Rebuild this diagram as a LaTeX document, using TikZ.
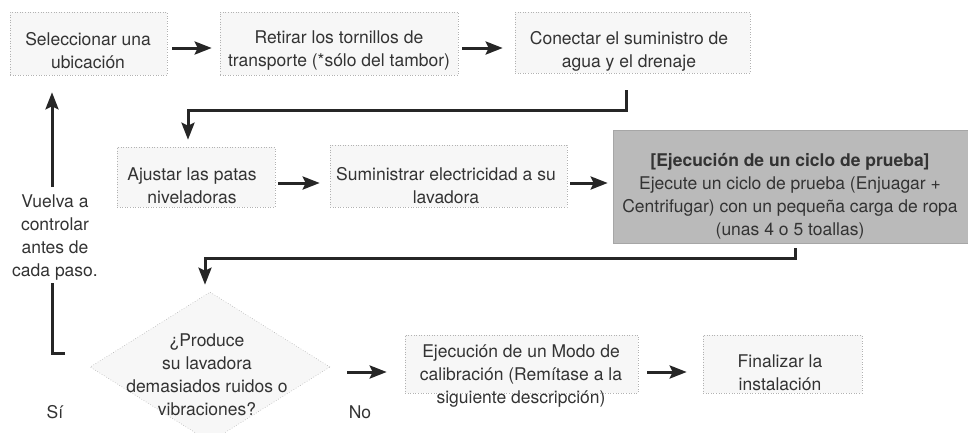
\documentclass[tikz,border=0pt]{standalone}
\usepackage{fontspec}
\setmainfont{TeX Gyre Heros}
\usetikzlibrary{arrows.meta,shapes.geometric,calc}
\begin{document}
\begin{tikzpicture}[x=1pt,y=-1pt,
  boxshape/.style={rectangle, fill=black!3, draw=black!30, dotted, line width=0.6pt, inner sep=0pt},
  grayshape/.style={rectangle, fill=black!27, draw=black!35, line width=0.6pt, inner sep=0pt},
  decshape/.style={diamond, fill=black!3, draw=black!30, dotted, line width=0.6pt, inner sep=0pt},
  txt/.style={inner sep=0pt, align=center, text=black!80, font=\fontsize{17.5}{23}\selectfont},
  arr/.style={-{Stealth[length=17pt,width=13pt,inset=3pt]}, line width=3pt, draw=black!85},
  ln/.style={line width=3pt, draw=black!85}
]
\useasboundingbox (0,0) rectangle (968,432);

% boxes
\node[boxshape, minimum width=157pt, minimum height=63pt] (b1) at (88.5,43.5) {};
\node[txt] (t1) at (88,51) {Seleccionar una\\ubicación};
\node[boxshape, minimum width=238pt, minimum height=63pt] (b2) at (339,43.5) {};
\node[txt] (t2) at (339,51) {Retirar los tornillos de\\transporte (*sólo del tambor)};
\node[boxshape, minimum width=235pt, minimum height=61pt] (b3) at (632.5,42.5) {};
\node[txt] (t3) at (629,51) {Conectar el suministro de\\agua y el drenaje};

\node[boxshape, minimum width=158pt, minimum height=60pt] (b4) at (196,177) {};
\node[txt] (t4) at (192,186) {Ajustar las patas\\niveladoras};
\node[boxshape, minimum width=237pt, minimum height=62pt] (b5) at (448.5,176) {};
\node[txt] (t5) at (446,186) {Suministrar electricidad a su\\lavadora};
\node[grayshape, minimum width=355pt, minimum height=113pt] (b6) at (790.5,186.5) {};
\node[txt] (t6) at (790,196) {\textbf{[Ejecución de un ciclo de prueba]}\\Ejecute un ciclo de prueba (Enjuagar +\\Centrifugar) con un pequeña carga de ropa\\(unas 4 o 5 toallas)};

\node[decshape, minimum width=240pt, minimum height=150pt] (d) at (210,367) {};
\node[txt] (td) at (207,375) {¿Produce\\su lavadora\\demasiados ruidos o\\vibraciones?};
\node[boxshape, minimum width=233pt, minimum height=58pt] (b7) at (521.5,364) {};
\node[txt] (t7) at (521,376) {Ejecución de un Modo de\\calibración (Remítase a la\\siguiente descripción)};
\node[boxshape, minimum width=159pt, minimum height=58pt] (b8) at (782.5,364) {};
\node[txt] (t8) at (780,373) {Finalizar la\\instalación};

\node[txt] (v) at (55,238) {Vuelva a\\controlar\\antes de\\cada paso.};
\node[txt] (si) at (55,412) {Sí};
\node[txt] (no) at (360,412) {No};

% helper coordinates
\coordinate (r1) at (0,48);
\coordinate (r2) at (0,183);
\coordinate (r3) at (0,372);
\coordinate (k1) at (626,110);
\coordinate (k2) at (188,0);
\coordinate (k3) at (795,258);
\coordinate (k4) at (205,0);
\coordinate (k5) at (52,0);
\coordinate (fe) at (65,353);

% horizontal arrows
\draw[arr] ($(b1.east |- r1)+(5,0)$) -- ($(b2.west |- r1)+(-8,0)$);
\draw[arr] ($(b2.east |- r1)+(4,0)$) -- ($(b3.west |- r1)+(-12,0)$);
\draw[arr] ($(b4.east |- r2)+(3,0)$) -- ($(b5.west |- r2)+(-10,0)$);
\draw[arr] ($(b5.east |- r2)+(3,0)$) -- ($(b6.west |- r2)+(-5,0)$);
\draw[arr] ($(d.east |- r3)+(17,0)$) -- ($(b7.west |- r3)+(-18,0)$);
\draw[arr] ($(b7.east |- r3)+(9,0)$) -- ($(b8.west |- r3)+(-16,0)$);

% elbow connectors
\draw[arr] ($(b3.south -| k1)+(0,17)$) -- (k1) -| ($(b4.north -| k2)+(0,-7)$);
\draw[arr] ($(b6.south -| k3)+(0,5)$) -- (k3) -| ($(d.north -| k4)+(0,-7)$);

% return loop
\draw[ln] (fe) -| ($(v.south -| k5)+(0,2)$);
\draw[arr] ($(v.north -| k5)+(0,-8)$) -- ($(b1.south -| k5)+(0,17)$);
\end{tikzpicture}
\end{document}
